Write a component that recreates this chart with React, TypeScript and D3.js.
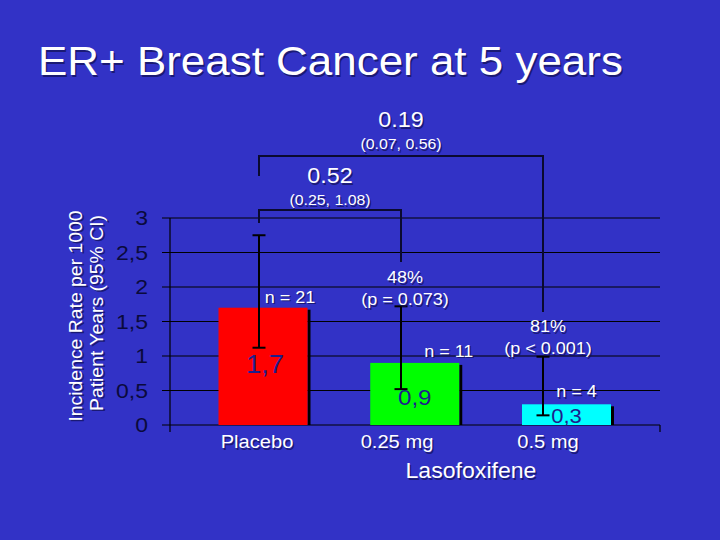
import React from "react";
import * as d3 from "d3";

const categories = ["Placebo", "0.25 mg", "0.5 mg"];
const values = [1.7, 0.9, 0.3];
const valueLabels = ["1,7", "0,9", "0,3"];
const ciLow = [1.12, 0.52, 0.14];
const ciHigh = [2.75, 1.72, 0.99];
const nLabels = ["n = 21", "n = 11", "n = 4"];
const yTicks = [0, 0.5, 1, 1.5, 2, 2.5, 3];
const yTickLabels = ["0", "0,5", "1", "1,5", "2", "2,5", "3"];
const barColors = ["#ff0000", "#00ff00", "#00ffff"];
const compTarget = [1, 2];
const compRatio = ["0.52", "0.19"];
const compCI = ["(0.25, 1.08)", "(0.07, 0.56)"];
const compReduction = ["48%", "81%"];
const compP = ["(p = 0.073)", "(p < 0.001)"];

// layout
const W = 720, H = 540;
const BG = "#3232c6";
const FONT = "Liberation Sans, Arial, Helvetica, sans-serif";
const plotLeft = 170, plotRight = 660;
const barWidth = 89;
const nLabelDx = [27, 34, 10];
const nLabelDy = [-5, -6, -7];
const valueLabelDy = [65, 42, 19];
const valueLabelDx = [2, 0, 0];
const valueLabelSize = [25, 22, 20];
const catLabelDx = [-2, -4, 5];
const bracketTopY = [210, 156];
const bracketLeftBottom = [223, 176];
const bracketRightBottom = [262, 312];
const ratioY = [183, 127];
const ciTextY = [205, 149];
const redY = [283, 332];
const pY = [305, 354];
const redDx = [4, 5];

type TP = {
  x: number;
  y: number;
  size: number;
  children: React.ReactNode;
  anchor?: "start" | "middle" | "end";
  fill?: string;
  sx?: number;
  rotate?: number;
  shadow?: boolean;
  dy?: string;
};

function T({ x, y, size, children, anchor = "middle", fill = "#ffffff", sx = 1.06, rotate = 0, shadow = true, dy }: TP) {
  const tf = (ox: number, oy: number) =>
    `translate(${x + ox},${y + oy})${rotate ? ` rotate(${rotate})` : ""} scale(${sx},1)`;
  return (
    <g>
      {shadow && (
        <text transform={tf(1.5, 1.5)} textAnchor={anchor} fontSize={size} fill="#101050" fillOpacity={0.7} fontFamily={FONT} dy={dy}>
          {children}
        </text>
      )}
      <text transform={tf(0, 0)} textAnchor={anchor} fontSize={size} fill={fill} fontFamily={FONT} dy={dy}>
        {children}
      </text>
    </g>
  );
}

export default function App() {
  const y = d3.scaleLinear().domain([0, 3]).range([425, 218]);
  const xBar = d3.scalePoint<string>().domain(categories).range([263, 566.5]);
  const xErr = d3.scalePoint<string>().domain(categories).range([259, 543]);

  return (
    <svg width={W} height={H} style={{ position: "absolute", left: 0, top: 0, display: "block" }}>
      <rect x={0} y={0} width={W} height={H} fill={BG} />
      <T x={38} y={75} size={40.5} anchor="start" sx={1.085}>
        ER+ Breast Cancer at 5 years
      </T>

      {/* gridlines and y ticks */}
      {yTicks.map((t, i) => (
        <g key={i}>
          <line x1={162} x2={plotRight} y1={y(t)} y2={y(t)} stroke="#000000" strokeWidth={1} />
          <T x={148} y={y(t)} dy="0.36em" anchor="end" size={20} sx={1.15} fill="#0a0a3c" shadow={false}>
            {yTickLabels[i]}
          </T>
        </g>
      ))}
      <line x1={plotLeft} x2={plotLeft} y1={y(3)} y2={432} stroke="#000" strokeWidth={1.2} />
      <line x1={plotRight} x2={plotRight} y1={y(0)} y2={432} stroke="#000" strokeWidth={1.2} />

      {/* y axis label */}
      <T x={82} y={316} size={19} rotate={-90} sx={1.02}>
        Incidence Rate per 1000
      </T>
      <T x={103} y={313} size={19} rotate={-90} sx={1.02}>
        Patient Years (95% CI)
      </T>

      {/* bars */}
      {categories.map((c, i) => {
        const cx = xBar(c)!;
        const x0 = cx - barWidth / 2;
        return (
          <g key={c}>
            <rect x={x0 + barWidth} y={y(values[i]) + 2} width={3} height={y(0) - y(values[i]) - 2} fill="#000" />
            <rect x={x0} y={y(values[i])} width={barWidth} height={y(0) - y(values[i])} fill={barColors[i]} />
          </g>
        );
      })}

      {/* error bars */}
      {categories.map((c, i) => {
        const ex = xErr(c)!;
        return (
          <g key={"e" + c} stroke="#000" strokeWidth={2}>
            <line x1={ex} x2={ex} y1={y(ciHigh[i])} y2={y(ciLow[i])} />
            <line x1={ex - 6.5} x2={ex + 6.5} y1={y(ciHigh[i])} y2={y(ciHigh[i])} />
            <line x1={ex - 6.5} x2={ex + 6.5} y1={y(ciLow[i])} y2={y(ciLow[i])} />
          </g>
        );
      })}

      {/* value labels */}
      {categories.map((c, i) => (
        <T
          key={"v" + c}
          x={xBar(c)! + valueLabelDx[i]}
          y={y(values[i]) + valueLabelDy[i]}
          size={valueLabelSize[i]}
          sx={1.1}
          fill="#1e1e8c"
          shadow={false}
        >
          {valueLabels[i]}
        </T>
      ))}

      {/* n labels */}
      {categories.map((c, i) => (
        <T key={"n" + c} x={xBar(c)! + nLabelDx[i]} y={y(values[i]) + nLabelDy[i]} size={17}>
          {nLabels[i]}
        </T>
      ))}

      {/* comparison brackets */}
      {compTarget.map((t, k) => {
        const x1 = xErr(categories[0])!;
        const x2 = xErr(categories[t])!;
        const mid = (x1 + x2) / 2;
        return (
          <g key={"b" + k}>
            <path
              d={`M${x1},${bracketLeftBottom[k]}V${bracketTopY[k]}H${x2}V${bracketRightBottom[k]}`}
              fill="none"
              stroke="#0a0a30"
              strokeWidth={2}
            />
            <T x={mid} y={ratioY[k]} size={22}>
              {compRatio[k]}
            </T>
            <T x={mid} y={ciTextY[k]} size={15}>
              {compCI[k]}
            </T>
            <T x={x2 + redDx[k]} y={redY[k]} size={17}>
              {compReduction[k]}
            </T>
            <T x={x2 + redDx[k]} y={pY[k]} size={17}>
              {compP[k]}
            </T>
          </g>
        );
      })}

      {/* category labels */}
      {categories.map((c, i) => (
        <T key={"c" + c} x={xErr(c)! + catLabelDx[i]} y={448} size={19}>
          {c}
        </T>
      ))}
      <T x={471} y={478} size={22} sx={1.05}>
        Lasofoxifene
      </T>
    </svg>
  );
}
